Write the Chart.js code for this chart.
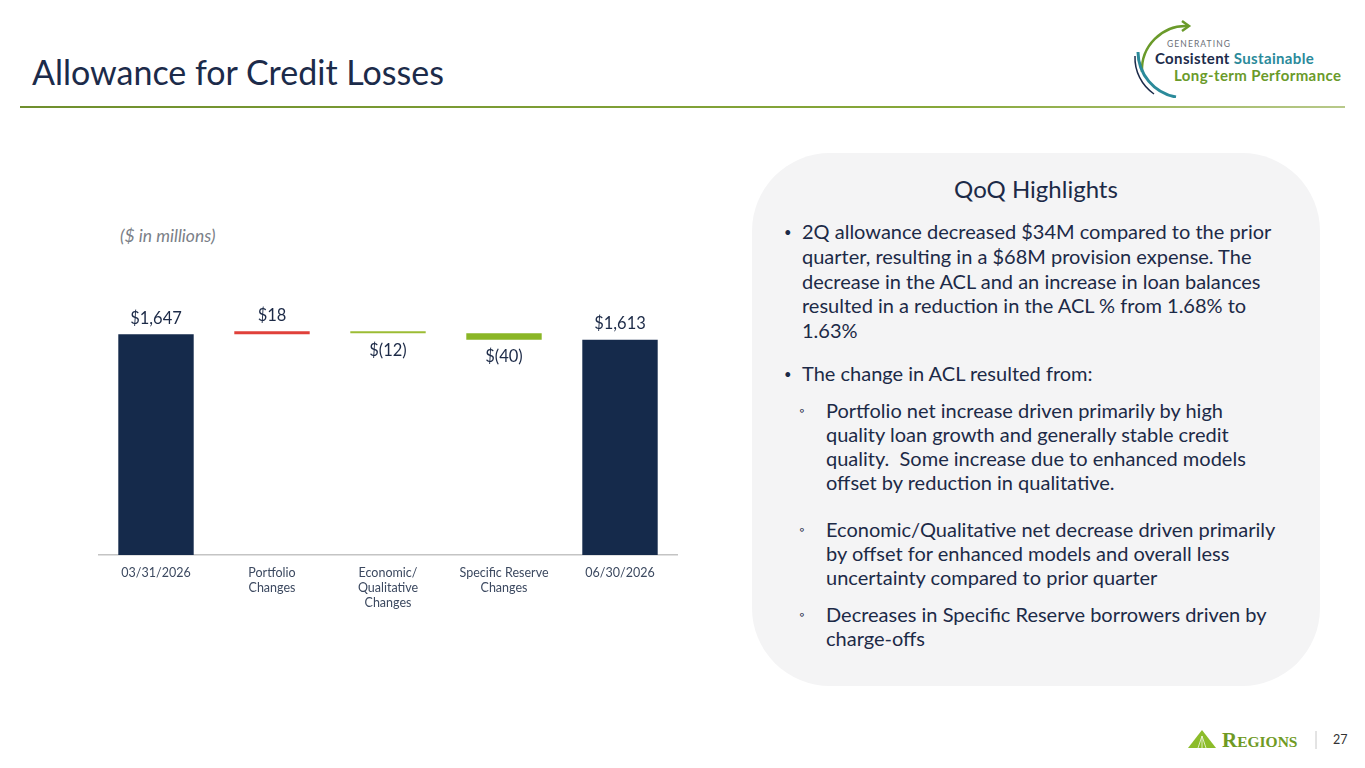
<!DOCTYPE html>
<html>
<head>
<meta charset="utf-8">
<script src="https://cdn.jsdelivr.net/npm/chart.js@4.4.1/dist/chart.umd.min.js"></script>
<style>
  html, body { margin: 0; padding: 0; background: #fff; }
  body { width: 1365px; height: 768px; position: relative; overflow: hidden; font-family: Lato, sans-serif; color: #1c2a47; }
  .abs { position: absolute; white-space: nowrap; }
  #title { left: 32px; top: 51px; font-size: 34px; color: #1c2b4a; }
  #rule { left: 20px; top: 106px; width: 1325px; height: 2px; background: linear-gradient(to right, #6f8f2e, #87a83a 70%, #b8c98a); }
  #units { left: 120px; top: 225px; font-size: 17.5px; font-style: italic; color: #7b7f88; }
  #panel { left: 752px; top: 153px; width: 568px; height: 533px; background: #f4f4f5; border-radius: 78px; }
  #qoq { left: 752px; width: 568px; top: 174px; text-align: center; font-size: 24px; color: #1c2a47; }
  .txt { font-size: 20px; line-height: 24.8px; color: #1c2a47; }
  .dot { font-size: 13px; color: #1c2a47; }
  #chartBox { position: absolute; left: 98px; top: 260px; width: 580px; height: 360px; }
  #logo { left: 1128px; top: 18px; width: 235px; height: 80px; }
  #regions { left: 1186px; top: 728px; }
</style>
</head>
<body>
<div class="abs" id="title">Allowance for Credit Losses</div>
<div class="abs" id="rule"></div>

<svg class="abs" id="logo" width="235" height="80" viewBox="0 0 235 80">
  <path d="M60 8 A44 44 0 0 0 14 54" fill="none" stroke="#6a9a2a" stroke-width="2.5"/>
  <path d="M54 3 L61 8 L54 13" fill="none" stroke="#6a9a2a" stroke-width="2.5"/>
  <path d="M10 34 A46 46 0 0 0 48 79" fill="none" stroke="#2b8a9a" stroke-width="3"/>
  <path d="M7 38 A44 44 0 0 0 26 76" fill="none" stroke="#1c2b4a" stroke-width="1.5"/>
  <text x="39" y="29" font-family="Lato" font-size="8.5" letter-spacing="1.1" fill="#6b6f77">GENERATING</text>
  <text x="27" y="46" font-family="Lato" font-size="15" letter-spacing="0.35" font-weight="bold" fill="#1c2b4a">Consistent <tspan fill="#2b8a9a">Sustainable</tspan></text>
  <text x="46" y="63" font-family="Lato" font-size="15" letter-spacing="0.4" font-weight="bold" fill="#6a9a2a">Long-term Performance</text>
</svg>

<div class="abs" id="units">($ in millions)</div>

<div id="chartBox"><canvas id="acl"></canvas></div>

<div class="abs" id="panel"></div>
<div class="abs" id="qoq">QoQ Highlights</div>
<div class="abs dot" style="left:784px; top:224px;">&#8226;</div>
<div class="abs txt" style="left:802px; top:219px;">2Q allowance decreased $34M compared to the prior<br>quarter, resulting in a $68M provision expense. The<br>decrease in the ACL and an increase in loan balances<br>resulted in a reduction in the ACL % from 1.68% to<br>1.63%</div>
<div class="abs dot" style="left:784px; top:366px;">&#8226;</div>
<div class="abs txt" style="left:802px; top:361px;">The change in ACL resulted from:</div>
<div class="abs dot" style="left:799px; top:402px;">&#9702;</div>
<div class="abs txt" style="left:826px; top:398px; line-height:24px;">Portfolio net increase driven primarily by high<br>quality loan growth and generally stable credit<br>quality.&nbsp; Some increase due to enhanced models<br>offset by reduction in qualitative.</div>
<div class="abs dot" style="left:799px; top:521px;">&#9702;</div>
<div class="abs txt" style="left:826px; top:517px; line-height:24px;">Economic/Qualitative net decrease driven primarily<br>by offset for enhanced models and overall less<br>uncertainty compared to prior quarter</div>
<div class="abs dot" style="left:799px; top:606px;">&#9702;</div>
<div class="abs txt" style="left:826px; top:602px; line-height:24px;">Decreases in Specific Reserve borrowers driven by<br>charge-offs</div>

<svg class="abs" id="regions" width="175" height="24" viewBox="0 0 175 24">
  <path d="M2 20 L16 2 L30 20 Z" fill="#8cbc2a"/>
  <path d="M16 8 L12 20 M16 8 L16 20 M16 8 L20 20" stroke="#f4f8e8" stroke-width="0.8"/>
  <text x="36" y="19" font-family="Liberation Serif" font-size="21" font-weight="bold" fill="#6f9a24">R<tspan font-size="15.5">EGIONS</tspan></text>
  <line x1="130" y1="3" x2="130" y2="21" stroke="#c8c8c8" stroke-width="1"/>
  <text x="147" y="16" font-family="Lato" font-size="12.5" fill="#333">27</text>
</svg>

<script>
// waterfall, $ in millions
const categories = ['03/31/2026', ['Portfolio', 'Changes'], ['Economic/', 'Qualitative', 'Changes'], ['Specific Reserve', 'Changes'], '06/30/2026'];
const startBalance = 1647;
const changes = [18, -12, -40];
const endBalance = 1613;
const valueLabels = ['$1,647', '$18', '$(12)', '$(40)', '$1,613'];
const axisFloor = 300;

// build floating ranges from the numbers above
const ranges = [[axisFloor, startBalance]];
let running = startBalance;
changes.forEach(c => {
    ranges.push([running, running + c].sort((a, b) => a - b));
    running += c;
});
ranges.push([axisFloor, endBalance]);

const barColors = ['#152a4b', '#e0403a', '#9cbc34', '#8ab626', '#152a4b'];

const valueLabelPlugin = {
    id: 'valueLabels',
    afterDatasetsDraw(chart) {
        const ctx = chart.ctx;
        const meta = chart.getDatasetMeta(0);
        ctx.save();
        ctx.font = '16.5px Lato';
        ctx.fillStyle = '#1c2a47';
        ctx.textAlign = 'center';
        ctx.textBaseline = 'middle';
        meta.data.forEach((bar, i) => {
            const isDrop = i > 0 && i < categories.length - 1 && changes[i - 1] < 0;
            const props = bar.getProps(['x', 'y', 'base'], true);
            const top = Math.min(props.y, props.base);
            const bottom = Math.max(props.y, props.base);
            if (isDrop) ctx.fillText(valueLabels[i], props.x, bottom + 17);
            else ctx.fillText(valueLabels[i], props.x, top - 16);
        });
        ctx.restore();
    }
};

new Chart(document.getElementById('acl'), {
    type: 'bar',
    data: {
        labels: categories,
        datasets: [{
            data: ranges,
            backgroundColor: barColors,
            borderWidth: 0,
            borderSkipped: false,
            barPercentage: 0.65,
            categoryPercentage: 1
        }]
    },
    options: {
        responsive: true,
        maintainAspectRatio: false,
        animation: false,
        layout: { padding: 0 },
        plugins: {
            legend: { display: false },
            tooltip: { enabled: false }
        },
        scales: {
            x: {
                grid: { display: false },
                border: { color: '#c4c4c4', width: 1.5 },
                ticks: {
                    color: '#3c4960',
                    font: { family: 'Lato', size: 12.5 },
                    padding: 2,
                    maxRotation: 0,
                    autoSkip: false
                },
                afterFit: s => { s.height = 65; }
            },
            y: {
                display: false,
                min: axisFloor,
                max: 2100
            }
        }
    },
    plugins: [valueLabelPlugin]
});
</script>
</body>
</html>
